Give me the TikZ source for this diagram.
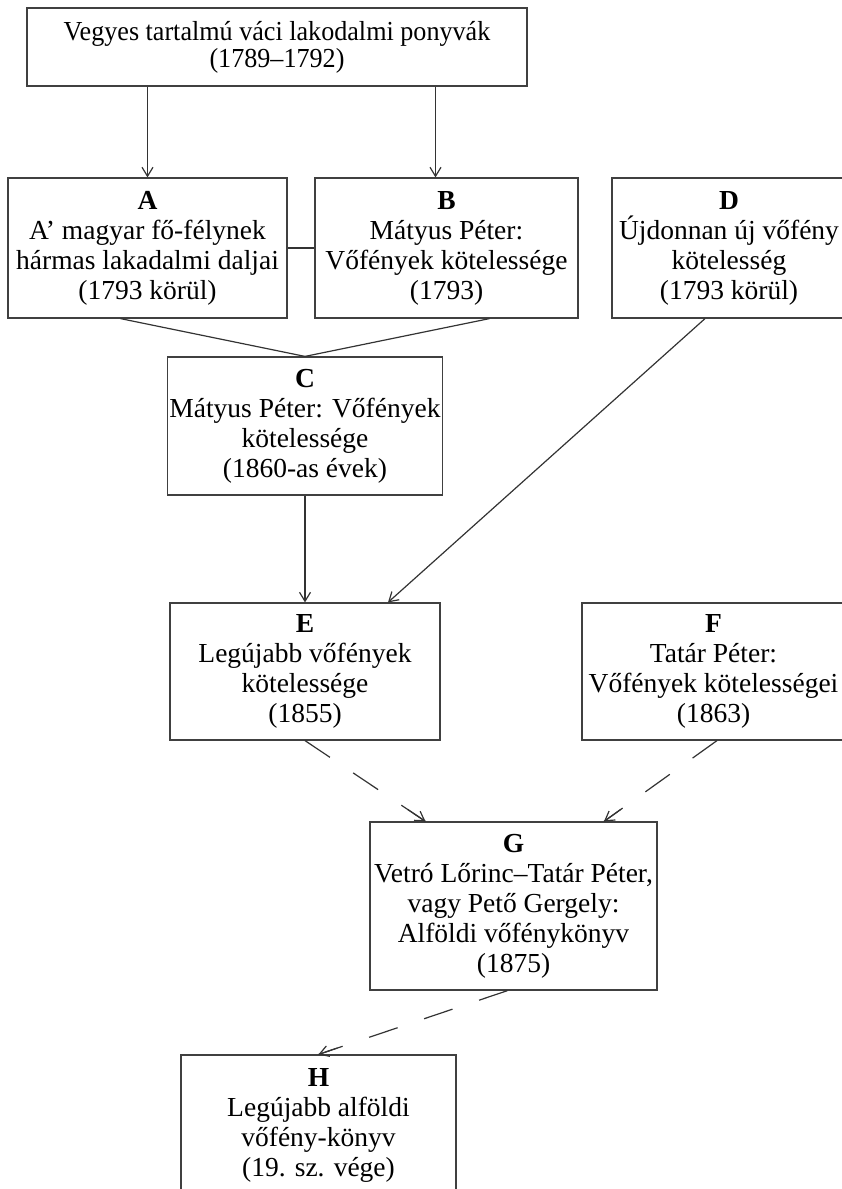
\documentclass[tikz,border=0pt]{standalone}
\usepackage{fontspec}
\setmainfont{Liberation Serif}
\newfontfamily\narrowserif[FakeStretch=0.95]{Liberation Serif}
\usetikzlibrary{arrows.meta,calc}

\begin{document}
\begin{tikzpicture}[x=1pt,y=-1pt,
  box/.style={draw=black!75, line width=1.2pt, align=center, inner sep=2pt,
    font=\fontsize{27.5}{30}\selectfont},
  link/.style={draw=black!80, line width=1.2pt},
  gap/.style={link, dash pattern=on 30pt off 28pt},
  >={Straight Barb[length=9pt,width=11pt]}]
\clip (0,0) rectangle (842,1189);
\node[box, minimum width=500pt, minimum height=78pt,
  font=\narrowserif\fontsize{27.5}{27}\selectfont] (src) at (277,47)
  {Vegyes tartalmú váci lakodalmi ponyvák\\(1789–1792)};
\node[box, minimum width=279pt, minimum height=140pt] (A) at (147.5,248)
  {\textbf{A}\\A’ magyar fő-félynek\\hármas lakadalmi daljai\\(1793 körül)};
\node[box, minimum width=263pt, minimum height=140pt] (B) at (446.5,248)
  {\textbf{B}\\Mátyus Péter:\\Vőfények kötelessége\\(1793)};
\node[box, minimum width=234pt, minimum height=140pt] (D) at (729,248)
  {\textbf{D}\\Újdonnan új vőfény\\kötelesség\\(1793 körül)};
\node[box, minimum width=270pt, minimum height=138pt] (C) at (305,426)
  {\textbf{C}\\Mátyus Péter: Vőfények\\kötelessége\\(1860-as évek)};
\node[box, minimum width=270pt, minimum height=137pt] (E) at (305,671.5)
  {\textbf{E}\\Legújabb vőfények\\kötelessége\\(1855)};
\node[box, minimum width=263pt, minimum height=137pt] (F) at (713.5,671.5)
  {\textbf{F}\\Tatár Péter:\\Vőfények kötelességei\\(1863)};
\node[box, minimum width=287pt, minimum height=168pt] (G) at (513.5,906)
  {\textbf{G}\\Vetró Lőrinc–Tatár Péter,\\vagy Pető Gergely:\\Alföldi vőfénykönyv\\(1875)};
\node[box, minimum width=275pt, minimum height=140pt] (H) at (318.5,1125)
  {\textbf{H}\\Legújabb alföldi\\vőfény-könyv\\(19. sz. vége)};
\coordinate (bin) at ([xshift=-11pt]B.north);
\coordinate (dout) at ([xshift=-24pt]D.south);
\coordinate (ein) at ([xshift=83pt]E.north);
\coordinate (eout) at (E.south);
\coordinate (fout) at ([xshift=3.5pt]F.south);
\coordinate (gin1) at ([xshift=-88pt]G.north);
\coordinate (gin2) at ([xshift=90.5pt]G.north);
\coordinate (gout) at ([xshift=-6pt]G.south);
\draw[link,->] (src.south -| A.north) -- (A.north);
\draw[link,->] (src.south -| bin) -- (bin);
\draw[link,->] (C) -- (E);
\draw[link,->] (dout) -- (ein);
\draw[link] (A) -- (B);
\draw[link] ([xshift=-27pt]A.south) -- (C.north);
\draw[link] ([xshift=43pt]B.south) -- (C.north);
\draw[gap] (eout) -- (gin1);
\draw[link,->] ($(eout)!0.85!(gin1)$) -- (gin1);
\draw[gap] (fout) -- (gin2);
\draw[link,->] ($(fout)!0.85!(gin2)$) -- (gin2);
\draw[gap] (gout) -- (H.north);
\draw[link,->] ($(gout)!0.9!(H.north)$) -- (H.north);
\end{tikzpicture}
\end{document}
